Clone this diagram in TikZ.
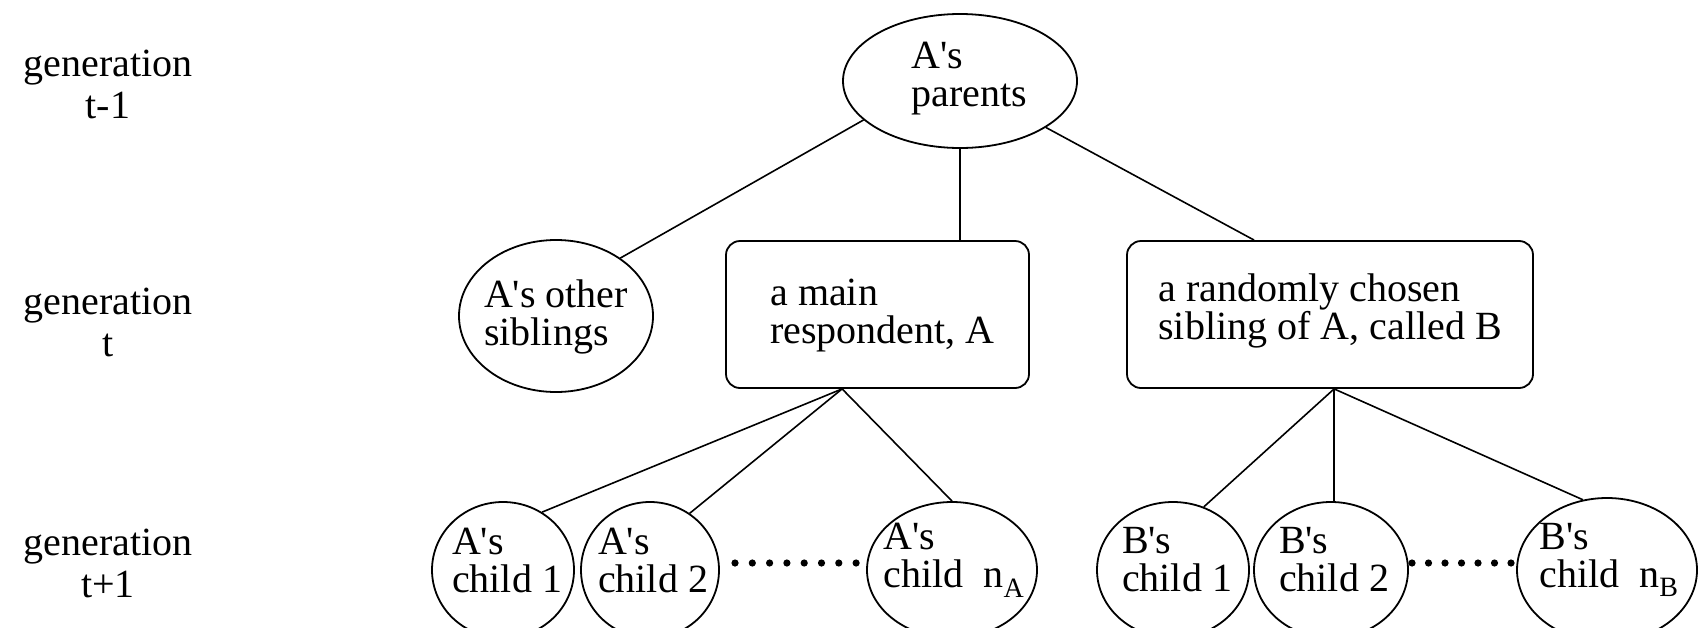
\documentclass[tikz,border=0pt]{standalone}
\usepackage{fontspec}
\setmainfont{Liberation Serif}
\usetikzlibrary{shapes.geometric,calc}
\newcommand{\apos}{\textquotesingle}
\begin{document}
\begin{tikzpicture}[x=1pt,y=-1pt,
  txt/.style={font=\fontsize{40}{38}\selectfont, align=left, inner sep=0pt},
  oval/.style={draw, ellipse, inner sep=0pt, line width=1.8pt},
  rbox/.style={draw, rounded corners=14pt, inner sep=0pt, line width=1.8pt},
  gen/.style={font=\fontsize{40}{42}\selectfont, align=center, inner sep=0pt},
  link/.style={line width=1.6pt},
  dot/.style={fill=black}]
\useasboundingbox (0,0) rectangle (1699,627);
\clip (0,0) rectangle (1699,627);
\fill[white] (0,0) rectangle (1699,627);

% generation labels
\node[gen] (g1) at (108,84) {generation\\t-1};
\node[gen] (g2) at (108,322) {generation\\t};
\node[gen] (g3) at (108,563) {generation\\t+1};

% generation t-1
\node[oval, minimum width=234, minimum height=134,
  label={[txt, xshift=9pt, yshift=2pt]center:{A\apos s\\parents}}] (P) at (960,81) {};

% generation t
\node[oval, minimum width=194, minimum height=152,
  label={[txt, yshift=-1pt]center:{A\apos s other\\siblings}}] (S) at (556,316) {};
\node[rbox, minimum width=303, minimum height=147,
  label={[txt, xshift=5pt, yshift=-1pt]center:{a main\\respondent, A}}] (A) at (877.5,314.5) {};
\node[rbox, minimum width=406, minimum height=147,
  label={[txt, yshift=4pt]center:{a randomly chosen\\sibling of A, called B}}] (B) at (1330,314.5) {};

% generation t+1
\node[oval, minimum width=142, minimum height=136,
  label={[txt, xshift=4pt, yshift=10pt]center:{A\apos s\\child 1}}] (a1) at (503,570) {};
\node[oval, minimum width=138, minimum height=136,
  label={[txt, xshift=3pt, yshift=10pt]center:{A\apos s\\child 2}}] (a2) at (650,570) {};
\node[oval, minimum width=170, minimum height=136,
  label={[txt, xshift=2pt, yshift=10pt]center:{A\apos s\\child\ \ n\textsubscript{A}}}] (aN) at (952,570) {};
\node[oval, minimum width=152, minimum height=136,
  label={[txt, xshift=4pt, yshift=10pt]center:{B\apos s\\child 1}}] (b1) at (1173,570) {};
\node[oval, minimum width=154, minimum height=136,
  label={[txt, xshift=3pt, yshift=10pt]center:{B\apos s\\child 2}}] (b2) at (1331,570) {};
\node[oval, minimum width=180, minimum height=144,
  label={[txt, xshift=2pt, yshift=10pt]center:{B\apos s\\child\ \ n\textsubscript{B}}}] (bN) at (1607,570) {};

% connection points
\coordinate (Atop) at (P |- A.north);
\coordinate (Btop) at ($(B.north west)+(128,0)$);
\coordinate (Abot) at ($(A.south west)+(117,0)$);
\coordinate (Bbot) at ($(B.south west)+(208,0)$);

% connectors
\draw[link] (P) -- (Atop);
\draw[link] (P.202) -- (S.42);
\draw[link] (P) -- (Btop);
\draw[link] (Abot) -- (a1.56);
\draw[link] (Abot) -- (a2.55);
\draw[link] (Abot) -- (aN.north);
\draw[link] (Bbot) -- (b1.64);
\draw[link] (Bbot) -- (Bbot |- b2.north);
\draw[link] (Bbot) -- (bN.109);

% dots
\foreach \i in {0,...,7} \fill[dot] (735+\i*17.3,563) circle (3.6);
\foreach \i in {0,...,6} \fill[dot] (1412+\i*16.5,563) circle (3.6);
\end{tikzpicture}
\end{document}
